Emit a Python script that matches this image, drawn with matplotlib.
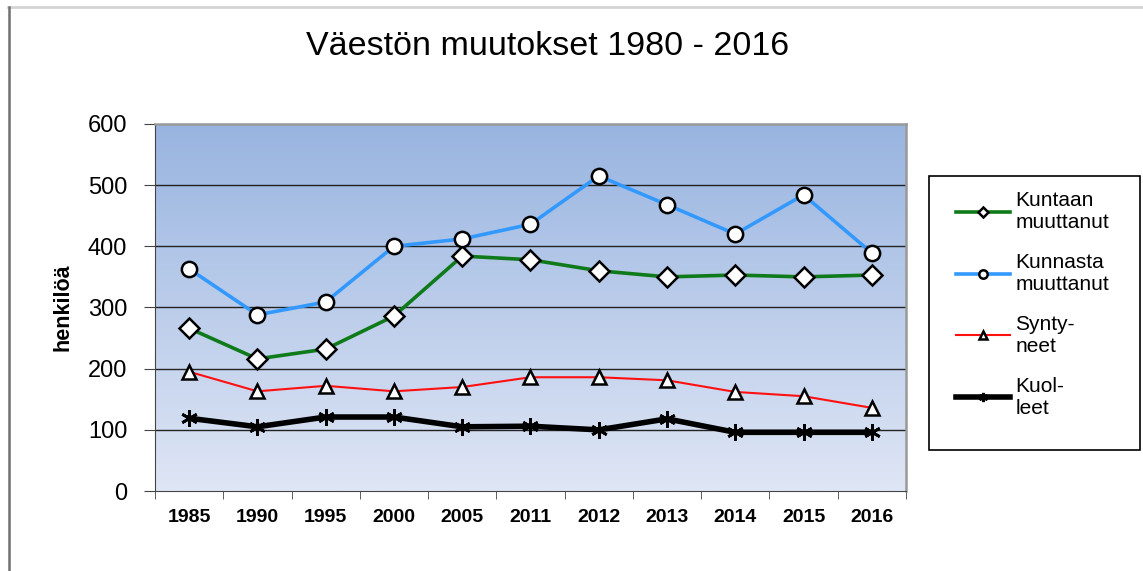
import numpy as np
import matplotlib.pyplot as plt
from matplotlib.lines import Line2D
from matplotlib.patches import Rectangle

plt.rcParams['font.family'] = ['Liberation Sans', 'DejaVu Sans']

# vuodet ja sarjat
vuodet = ['1985', '1990', '1995', '2000', '2005', '2011', '2012', '2013', '2014', '2015', '2016']
kuntaan = [266, 216, 232, 286, 384, 378, 360, 350, 353, 350, 353]
kunnasta = [363, 288, 309, 400, 412, 436, 515, 468, 420, 484, 389]
syntyneet = [195, 163, 172, 163, 170, 186, 186, 181, 162, 155, 136]
kuolleet = [119, 105, 121, 121, 105, 106, 100, 118, 96, 96, 96]

W, H = 1143, 571
fig = plt.figure(figsize=(W / 100, H / 100), dpi=100)
# kuvan reunaviivat (ylä vaalea, vasen tumma)
fig.add_artist(Line2D([0.007, 1.0], [0.988, 0.988], transform=fig.transFigure, color='#d4d4d4', lw=2))
fig.add_artist(Line2D([0.0075, 0.0075], [0.0, 0.988], transform=fig.transFigure, color='#707070', lw=1.8))

ax = fig.add_axes([0.1356, 0.140, 0.657, 0.643])
x = np.arange(len(vuodet))

# liukuväritausta
grad = np.linspace(0, 1, 256).reshape(-1, 1)
top = np.array([0x98, 0xB4, 0xE0]) / 255
bot = np.array([0xDF, 0xE6, 0xF5]) / 255
img = top + (bot - top) * grad[:, :, None]
ax.imshow(img, extent=[0, 1, 0, 1], transform=ax.transAxes, aspect='auto', zorder=0)

for yv in [100, 200, 300, 400, 500]:
    ax.axhline(yv, color='#222222', lw=1, zorder=1)

ax.plot(x, kuntaan, color='#0f7a1a', lw=2.6, marker='D', ms=10, mfc='white', mec='black', mew=1.8,
        label='Kuntaan\nmuuttanut', zorder=3)
ax.plot(x, kunnasta, color='#3399ff', lw=2.6, marker='o', ms=11, mfc='white', mec='black', mew=1.8,
        label='Kunnasta\nmuuttanut', zorder=3)
ax.plot(x, syntyneet, color='#ff1010', lw=1.5, marker='^', ms=10, mfc='white', mec='black', mew=1.8,
        label='Synty-\nneet', zorder=3)
ax.plot(x, kuolleet, color='black', lw=4, marker=(6, 2, 0), ms=12, mfc='white', mec='black', mew=2,
        label='Kuol-\nleet', zorder=3)

ax.set_xlim(-0.5, len(vuodet) - 0.5)
ax.set_ylim(0, 600)
ax.set_yticks([0, 100, 200, 300, 400, 500, 600])
ax.set_xticks(x)
ax.set_xticklabels(vuodet, fontsize=14, fontweight='bold')
ax.set_xticks(np.arange(-0.5, len(vuodet), 1), minor=True)
ax.tick_params(axis='x', which='major', length=0, pad=13)
ax.tick_params(axis='x', which='minor', length=6, color='#444444')
ax.tick_params(axis='y', labelsize=17, length=8, color='#444444', pad=12)
ax.set_ylabel('henkilöä', fontsize=15.5, fontweight='bold', labelpad=10)

for s in ['top', 'right']:
    ax.spines[s].set_color('#999999')
    ax.spines[s].set_linewidth(1.8)
for s in ['left', 'bottom']:
    ax.spines[s].set_color('#444444')

fig.text(0.479, 0.918, 'Väestön muutokset 1980 - 2016', ha='center', va='center', fontsize=24.5)

# selite ilman kehystä, kehys piirretään erikseen
leg = fig.legend(loc='upper left', bbox_to_anchor=(956 / W, 1 - 191 / H), fontsize=15,
                 frameon=False, labelspacing=1.0, handlelength=2.6,
                 markerscale=0.55, borderpad=0, handletextpad=0.25, borderaxespad=0)
fig.patches.append(Rectangle((929 / W, 1 - 450 / H), (1140 - 929) / W, (450 - 176) / H,
                             transform=fig.transFigure, fill=False, edgecolor='black', lw=1.2))

fig.savefig('out.png', dpi=100)
